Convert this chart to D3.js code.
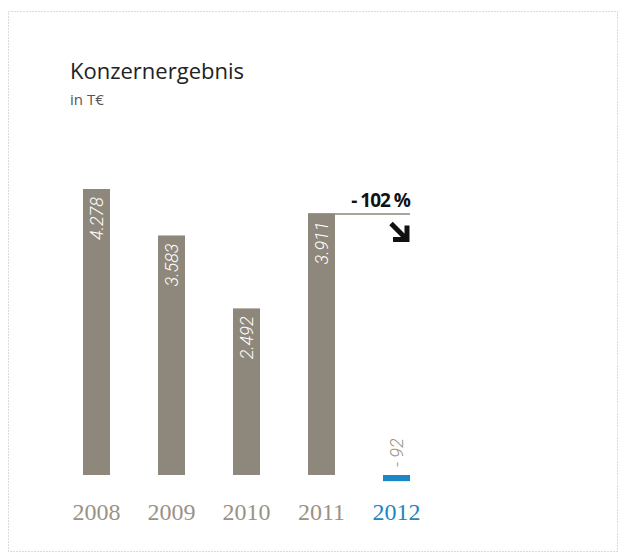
<!DOCTYPE html>
<html lang="en">
<head>
<meta charset="utf-8">
<script src="https://d3js.org/d3.v7.min.js"></script>
<style type="text/css">
body { margin: 0; background: #fff; }
svg { display: block; }
</style>
</head>
<body>
<script type="text/javascript">

// chart values
var years = ["2008", "2009", "2010", "2011", "2012"];
var values = [4278, 3583, 2492, 3911, -92];
var valueLabels = ["4.278", "3.583", "2.492", "3.911", "- 92"];
var changeLabel = "- 102 %";

var width = 620;
var height = 555;

var greyBar = "#8e877b";
var blue = "#1a88c2";

var svg = d3.select("body")
	.append("svg")
	.attr("width", width)
	.attr("height", height);

// dotted frame
svg.append("rect")
	.attr("x", 8.5)
	.attr("y", 11.5)
	.attr("width", 609)
	.attr("height", 540)
	.attr("fill", "none")
	.attr("stroke", "#bdb7ae")
	.attr("stroke-width", 1)
	.attr("stroke-dasharray", "1,2");

// title
svg.append("text")
	.attr("x", 70)
	.attr("y", 79)
	.style("font", "22px 'Open Sans', sans-serif")
	.style("fill", "#222")
	.text("Konzernergebnis");

svg.append("text")
	.attr("x", 70)
	.attr("y", 105)
	.style("font", "15px 'Open Sans', sans-serif")
	.style("fill", "#555")
	.text("in T€");

var x = d3.scaleBand()
	.domain(years)
	.range([59, 434])
	.paddingInner(0.64)
	.paddingOuter(0.32);

var y = d3.scaleLinear()
	.domain([0, 4278])
	.range([475, 189]);

var bars = svg.selectAll("g.bar")
	.data(years)
	.enter()
	.append("g")
	.attr("class", "bar");

bars.append("rect")
	.attr("x", function(d) { return x(d); })
	.attr("width", x.bandwidth())
	.attr("y", function(d, i) { return y(Math.max(0, values[i])); })
	.attr("height", function(d, i) { return Math.abs(y(values[i]) - y(0)); })
	.attr("fill", function(d, i) { return values[i] < 0 ? blue : greyBar; });

// value labels (rotated)
bars.append("text")
	.attr("transform", function(d, i) {
		var cx = x(d) + x.bandwidth() / 2 + 6;
		var ty = values[i] < 0 ? y(0) - 8 : y(values[i]) + 8;
		return "translate(" + cx + "," + ty + ") rotate(-90)";
	})
	.attr("text-anchor", function(d, i) { return values[i] < 0 ? "start" : "end"; })
	.style("font", "italic 300 18px Roboto, sans-serif")
	.style("fill", function(d, i) { return values[i] < 0 ? "#9a9285" : "#fff"; })
	.text(function(d, i) { return valueLabels[i]; });

// year labels
bars.append("text")
	.attr("x", function(d) { return x(d) + x.bandwidth() / 2; })
	.attr("y", 520)
	.attr("text-anchor", "middle")
	.style("font", "24px 'Liberation Serif', serif")
	.style("fill", function(d, i) { return i === years.length - 1 ? blue : "#9a9285"; })
	.text(function(d) { return d; });

// change marker
var x0 = x(years[3]);
var x1 = x(years[4]) + x.bandwidth();
var lineY = y(values[3]);

svg.append("line")
	.attr("x1", x0)
	.attr("x2", x1)
	.attr("y1", lineY + 0.5)
	.attr("y2", lineY + 0.5)
	.attr("stroke", "#8e877b")
	.attr("stroke-width", 1.5);

svg.append("text")
	.attr("x", x1)
	.attr("y", lineY - 7)
	.attr("text-anchor", "end")
	.style("font", "bold 19px 'Open Sans', sans-serif")
	.style("letter-spacing", "-1px")
	.style("fill", "#111")
	.text(changeLabel);

// arrow pointing down-right
var ax = x1 - 3, ay = lineY + 26;
var arrow = svg.append("g").attr("fill", "none").attr("stroke", "#111").attr("stroke-width", 5);
arrow.append("line")
	.attr("x1", ax - 16).attr("y1", ay - 16)
	.attr("x2", ax - 2).attr("y2", ay - 2);
arrow.append("path")
	.attr("d", "M" + (ax - 14) + "," + ay + " L" + ax + "," + ay + " L" + ax + "," + (ay - 14))
	.attr("stroke-linejoin", "miter");

</script>
</body>
</html>
